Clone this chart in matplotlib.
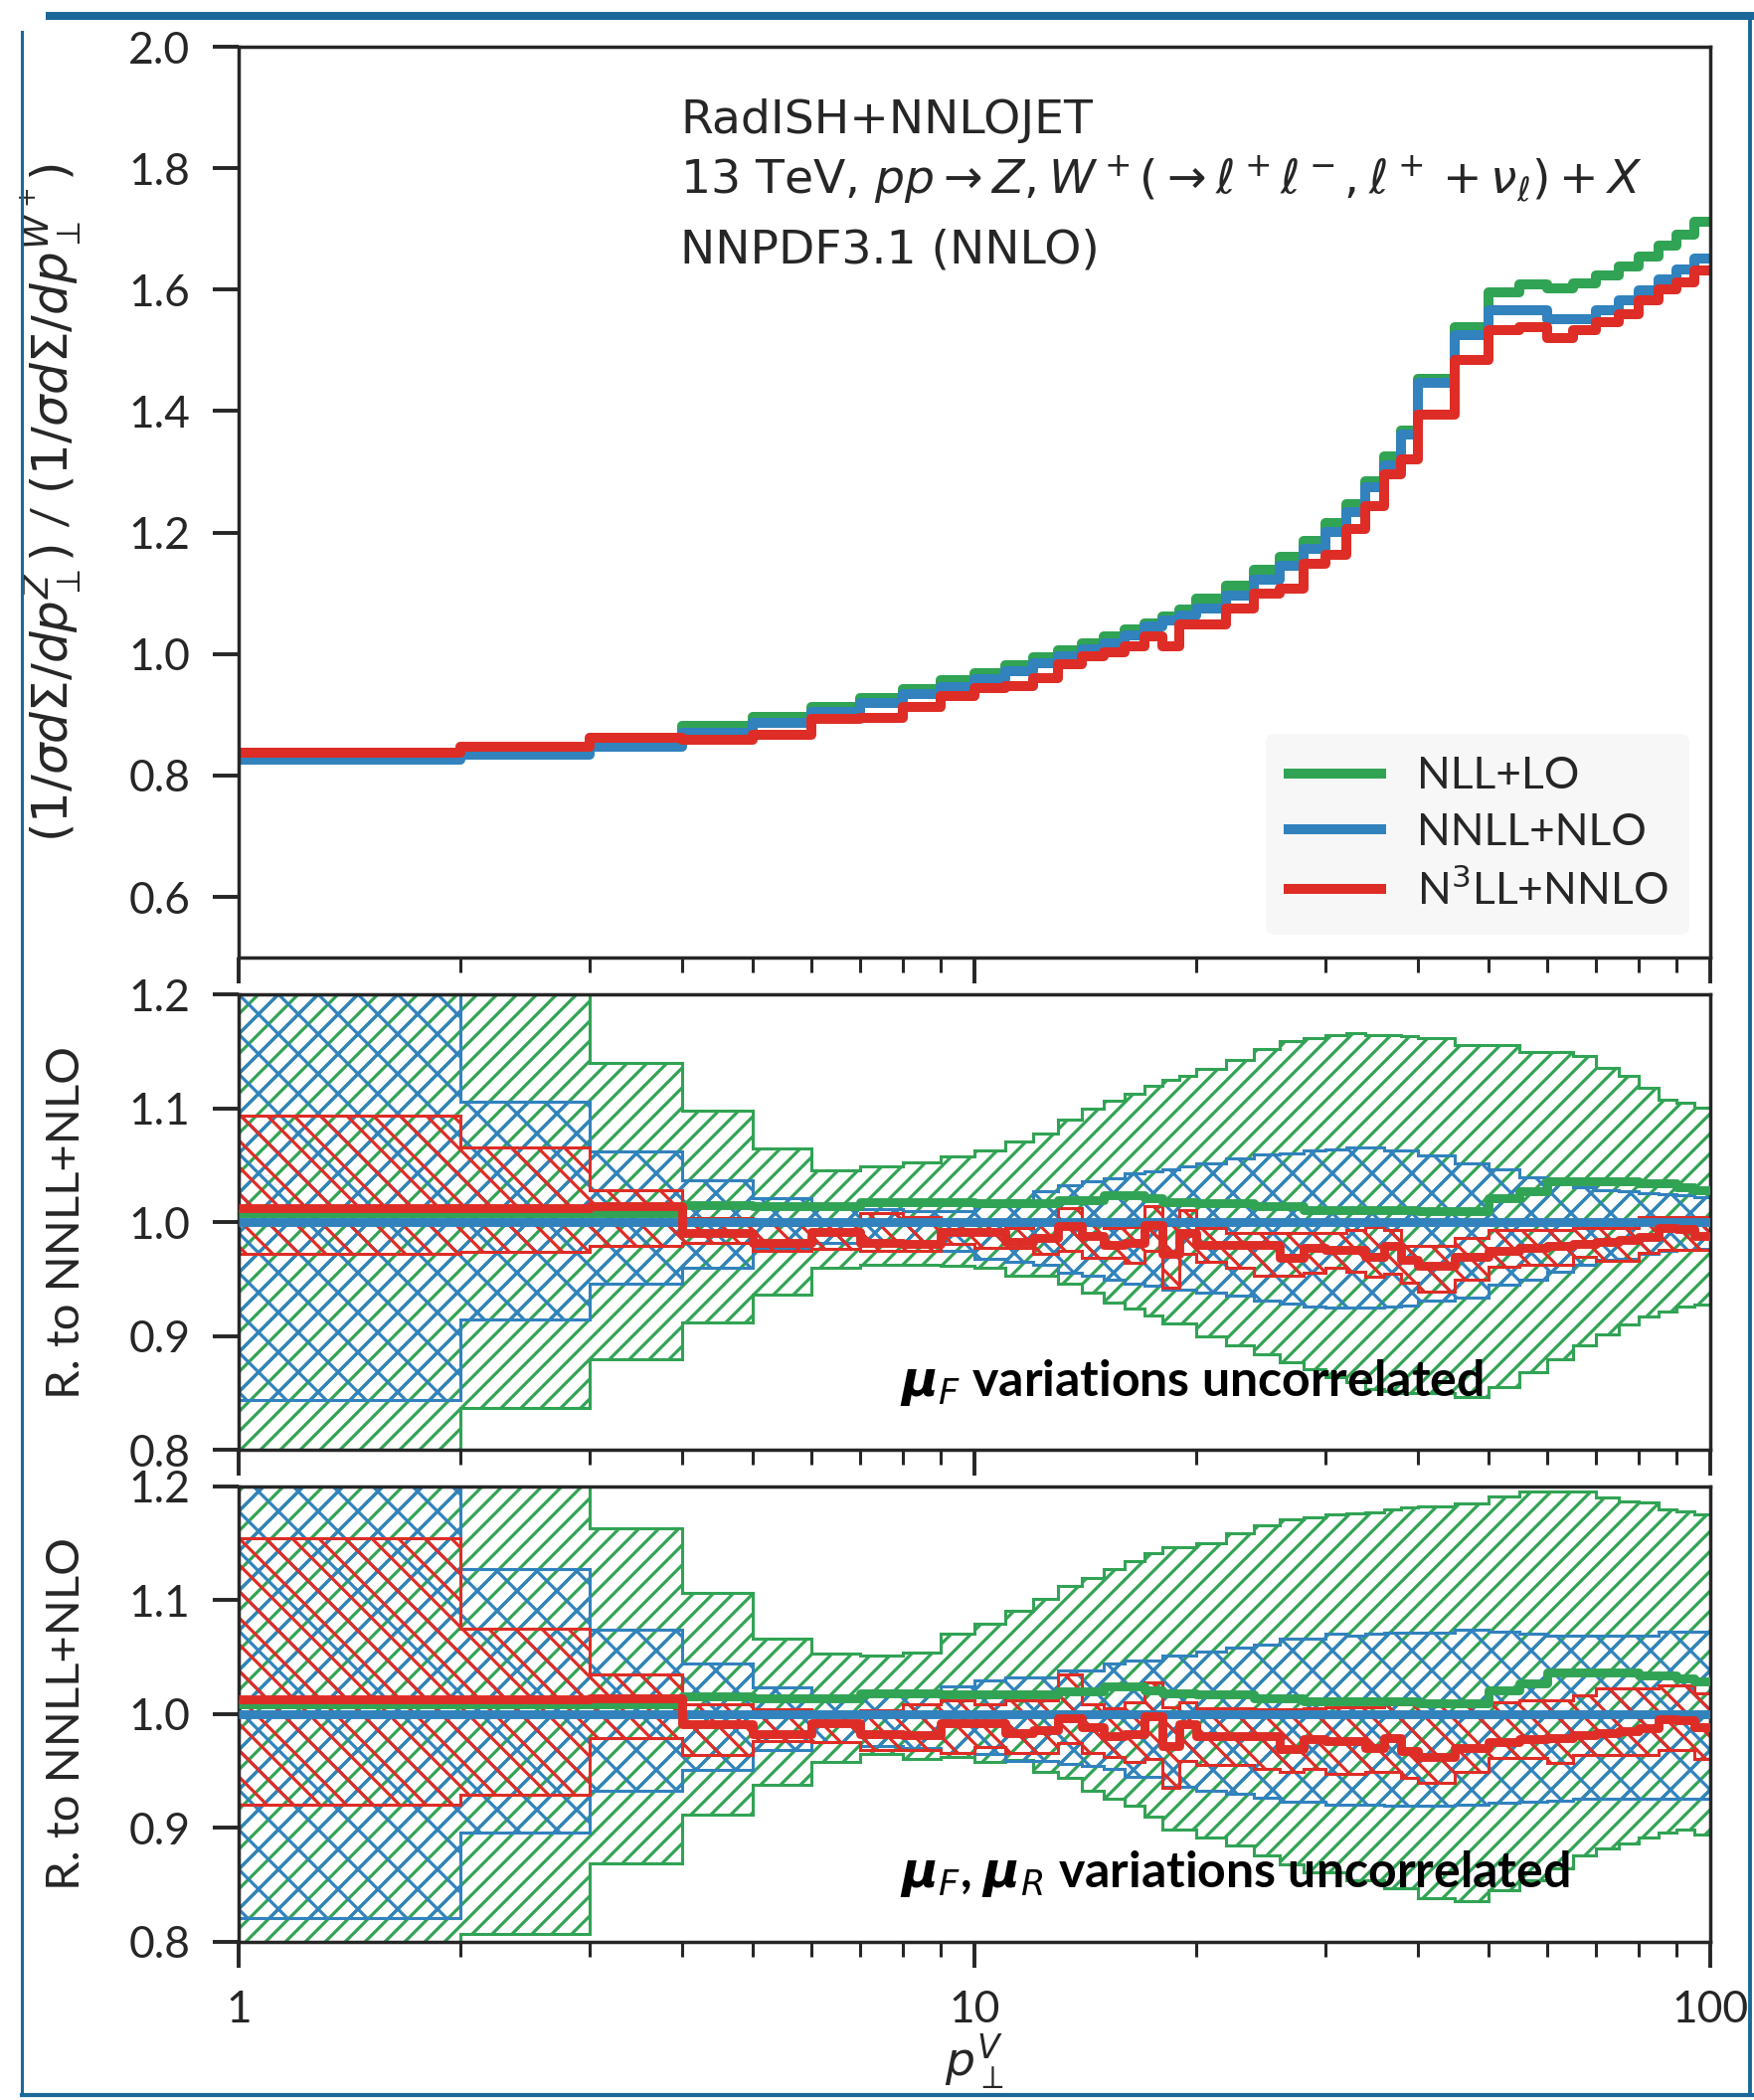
import numpy as np
import matplotlib
matplotlib.use("Agg")
import matplotlib.pyplot as plt
from matplotlib import ticker
from matplotlib.lines import Line2D

# bin edges in p_T^V
pt_edges = [1, 2, 3, 4, 5, 6, 7, 8, 9, 10, 11, 12, 13, 14, 15, 16, 17, 18, 19, 20,
            22, 24, 26, 28, 30, 32, 34, 36, 38, 40,
            45, 50, 55, 60, 65, 70, 75, 80, 85, 90, 95, 100]

labels = ["NLL+LO", "NNLL+NLO", r"N$^3$LL+NNLO"]
colors = ["#31a354", "#3182bd", "#de2d26"]

# top panel: Z / W+ ratio of normalised spectra
top_nll = [0.833, 0.842, 0.856, 0.882, 0.897, 0.912, 0.928, 0.943, 0.957, 0.969,
           0.981, 0.995, 1.006, 1.017, 1.029, 1.040, 1.051, 1.062, 1.074, 1.092,
           1.113, 1.138, 1.160, 1.187, 1.216, 1.247, 1.285, 1.326, 1.368, 1.454,
           1.539, 1.596, 1.608, 1.602, 1.611, 1.623, 1.639, 1.655, 1.672, 1.690, 1.712]
top_nnll = [0.826, 0.834, 0.848, 0.871, 0.887, 0.904, 0.919, 0.934, 0.946, 0.959,
            0.972, 0.985, 0.996, 1.007, 1.017, 1.030, 1.045, 1.056, 1.064, 1.075,
            1.097, 1.122, 1.146, 1.173, 1.201, 1.233, 1.274, 1.310, 1.361, 1.446,
            1.525, 1.566, 1.566, 1.552, 1.552, 1.566, 1.582, 1.599, 1.617, 1.634, 1.652]
top_n3ll = [0.837, 0.848, 0.862, 0.858, 0.867, 0.893, 0.894, 0.912, 0.930, 0.944,
            0.947, 0.961, 0.983, 0.996, 1.003, 1.012, 1.029, 1.013, 1.048, 1.048,
            1.075, 1.100, 1.108, 1.149, 1.163, 1.206, 1.244, 1.296, 1.321, 1.394,
            1.484, 1.533, 1.539, 1.520, 1.533, 1.547, 1.560, 1.582, 1.601, 1.612, 1.632]

# ratio to NNLL+NLO (central)
ratio_nll = [1.008, 1.008, 1.008, 1.015, 1.014, 1.014, 1.018, 1.018, 1.0175, 1.017,
             1.017, 1.017, 1.020, 1.020, 1.024, 1.024, 1.021, 1.018, 1.018, 1.017,
             1.017, 1.014, 1.014, 1.011, 1.011, 1.011, 1.011, 1.011, 1.011, 1.0096,
             1.0096, 1.021, 1.027, 1.036, 1.036, 1.036, 1.036, 1.034, 1.034, 1.031, 1.0285]
ratio_nnll = [1.0] * 41
ratio_n3ll = [1.0125, 1.013, 1.014, 0.991, 0.982, 0.992, 0.982, 0.981, 0.992, 0.992,
              0.983, 0.986, 0.9965, 0.988, 0.980, 0.982, 0.998, 0.972, 0.991, 0.980,
              0.980, 0.980, 0.969, 0.978, 0.976, 0.976, 0.970, 0.979, 0.967, 0.962,
              0.970, 0.975, 0.978, 0.979, 0.981, 0.983, 0.985, 0.987, 0.995, 0.994, 0.988]

# mu_F variations uncorrelated
nll_up_f = [1.25, 1.25, 1.1405, 1.098, 1.065, 1.046, 1.049, 1.053, 1.058, 1.063,
            1.071, 1.078, 1.090, 1.100, 1.107, 1.113, 1.120, 1.125, 1.129, 1.135,
            1.143, 1.152, 1.159, 1.162, 1.165, 1.166, 1.1645, 1.1645, 1.164, 1.162,
            1.156, 1.156, 1.150, 1.150, 1.146, 1.136, 1.129, 1.118, 1.108, 1.105, 1.101]
nll_lo_f = [0.78, 0.837, 0.880, 0.912, 0.937, 0.960, 0.963, 0.963, 0.962, 0.960,
            0.953, 0.953, 0.946, 0.938, 0.930, 0.924, 0.918, 0.911, 0.911, 0.900,
            0.892, 0.884, 0.877, 0.871, 0.864, 0.860, 0.854, 0.852, 0.850, 0.850,
            0.847, 0.855, 0.868, 0.880, 0.892, 0.902, 0.910, 0.917, 0.922, 0.926, 0.928]
nnll_up_f = [1.25, 1.106, 1.062, 1.037, 1.021, 1.015, 1.012, 1.010, 1.010, 1.014,
             1.020, 1.027, 1.033, 1.036, 1.039, 1.043, 1.0445, 1.047, 1.049, 1.052,
             1.056, 1.060, 1.061, 1.063, 1.064, 1.066, 1.0655, 1.063, 1.063, 1.059,
             1.0515, 1.047, 1.040, 1.036, 1.031, 1.028, 1.027, 1.026, 1.025, 1.024, 1.022]
nnll_lo_f = [0.844, 0.915, 0.946, 0.960, 0.978, 0.982, 0.982, 0.980, 0.975, 0.968,
             0.965, 0.963, 0.956, 0.953, 0.950, 0.946, 0.944, 0.941, 0.941, 0.938,
             0.936, 0.931, 0.929, 0.926, 0.925, 0.925, 0.925, 0.926, 0.927, 0.931,
             0.934, 0.945, 0.950, 0.957, 0.963, 0.967, 0.968, 0.972, 0.975, 0.976, 0.977]
n3ll_up_f = [1.094, 1.066, 1.0285, 1.004, 0.998, 1.000, 1.008, 1.005, 0.999, 0.998,
             0.995, 1.000, 1.0125, 0.998, 0.995, 0.996, 1.014, 0.998, 1.011, 0.995,
             0.991, 0.991, 0.991, 0.991, 0.991, 0.993, 0.996, 0.993, 0.979, 0.979,
             0.986, 0.993, 0.993, 0.993, 0.995, 0.995, 0.995, 1.005, 1.005, 1.005, 1.005]
n3ll_lo_f = [0.9726, 0.974, 0.979, 0.982, 0.975, 0.977, 0.975, 0.975, 0.981, 0.978,
             0.978, 0.972, 0.975, 0.969, 0.969, 0.9645, 0.975, 0.943, 0.972, 0.965,
             0.960, 0.953, 0.953, 0.956, 0.960, 0.957, 0.9525, 0.955, 0.947, 0.939,
             0.9496, 0.961, 0.963, 0.963, 0.970, 0.966, 0.966, 0.973, 0.976, 0.976, 0.976]

# mu_F, mu_R variations uncorrelated
nll_up_r = [1.25, 1.25, 1.163, 1.106, 1.066, 1.053, 1.051, 1.054, 1.070, 1.079,
            1.0905, 1.1007, 1.112, 1.1196, 1.127, 1.134, 1.141, 1.146, 1.146, 1.150,
            1.159, 1.166, 1.1705, 1.173, 1.175, 1.176, 1.177, 1.180, 1.181, 1.182,
            1.185, 1.191, 1.195, 1.195, 1.195, 1.190, 1.187, 1.186, 1.180, 1.178, 1.175]
nll_lo_r = [0.78, 0.807, 0.869, 0.9115, 0.938, 0.958, 0.965, 0.960, 0.9625, 0.958,
            0.9595, 0.949, 0.9435, 0.932, 0.925, 0.919, 0.910, 0.8985, 0.8985, 0.891,
            0.884, 0.8755, 0.868, 0.861, 0.861, 0.854, 0.854, 0.8465, 0.8465, 0.838,
            0.835, 0.845, 0.854, 0.864, 0.8755, 0.882, 0.886, 0.891, 0.8955, 0.898, 0.894]
nnll_up_r = [1.25, 1.127, 1.0736, 1.044, 1.0236, 1.015, 1.018, 1.020, 1.024, 1.029,
             1.032, 1.032, 1.038, 1.038, 1.044, 1.047, 1.047, 1.051, 1.051, 1.055,
             1.058, 1.061, 1.066, 1.066, 1.070, 1.069, 1.070, 1.0715, 1.0715, 1.0715,
             1.074, 1.072, 1.070, 1.069, 1.0686, 1.0686, 1.0686, 1.0686, 1.072, 1.072, 1.072]
nnll_lo_r = [0.821, 0.8955, 0.932, 0.951, 0.968, 0.975, 0.972, 0.970, 0.966, 0.965,
             0.959, 0.959, 0.956, 0.954, 0.952, 0.945, 0.945, 0.936, 0.936, 0.932,
             0.930, 0.926, 0.923, 0.923, 0.920, 0.920, 0.920, 0.919, 0.919, 0.919,
             0.920, 0.922, 0.923, 0.924, 0.925, 0.925, 0.925, 0.925, 0.925, 0.925, 0.925]
n3ll_up_r = [1.1545, 1.0745, 1.035, 1.008, 1.004, 1.000, 1.003, 1.008, 1.012, 1.008,
             1.012, 1.012, 1.035, 1.008, 1.005, 1.010, 1.028, 1.006, 1.010, 1.005,
             1.005, 1.004, 1.004, 1.005, 1.006, 1.006, 1.006, 1.008, 1.008, 1.008,
             1.008, 1.0105, 1.012, 1.012, 1.016, 1.022, 1.022, 1.022, 1.025, 1.025, 1.018]
n3ll_lo_r = [0.920, 0.929, 0.9785, 0.964, 0.976, 0.975, 0.968, 0.968, 0.966, 0.971,
             0.9654, 0.9654, 0.974, 0.966, 0.962, 0.958, 0.960, 0.935, 0.959, 0.955,
             0.955, 0.952, 0.949, 0.952, 0.947, 0.947, 0.949, 0.949, 0.9435, 0.939,
             0.949, 0.961, 0.961, 0.9565, 0.964, 0.964, 0.964, 0.964, 0.968, 0.968, 0.960]

hatches = ["////", "xx", "\\\\\\"]
ink = "#262626"

# rendered at 240 dpi (hatch cell = 1 inch), so point sizes are scaled by S
DPI = 240
S = 200.0 / DPI

plt.rcParams["font.family"] = ["Lato", "DejaVu Sans"]
plt.rcParams["mathtext.fontset"] = "dejavusans"
plt.rcParams["font.size"] = 16 * S
plt.rcParams["text.color"] = ink
plt.rcParams["axes.labelcolor"] = ink
plt.rcParams["axes.edgecolor"] = ink
plt.rcParams["xtick.color"] = ink
plt.rcParams["ytick.color"] = ink
plt.rcParams["axes.linewidth"] = 1.25 * S
plt.rcParams["hatch.linewidth"] = 0.95


def setup_axis(ax, xlabels):
    ax.set_xscale("log")
    ax.set_xlim(1, 100)
    ax.xaxis.set_major_locator(ticker.FixedLocator([1, 10, 100]))
    ax.xaxis.set_minor_locator(ticker.LogLocator(base=10, subs=np.arange(2, 10)))
    ax.xaxis.set_minor_formatter(ticker.NullFormatter())
    if xlabels:
        ax.xaxis.set_major_formatter(ticker.FuncFormatter(lambda v, p: "{:g}".format(v)))
    else:
        ax.xaxis.set_major_formatter(ticker.NullFormatter())
    ax.yaxis.set_major_formatter(ticker.FuncFormatter(lambda v, p: "{:.1f}".format(v)))
    ax.tick_params(which="major", direction="out", length=9.5 * S, width=1.4 * S,
                   pad=8 * S, top=False, right=False)
    ax.tick_params(which="minor", direction="out", length=5.4 * S, width=1.1 * S,
                   top=False, right=False)
    ax.tick_params(axis="y", which="minor", left=False)


def ratio_panel(ax, bands, note):
    for (up, lo), c, h in zip(bands, colors, hatches):
        ax.stairs(up, pt_edges, baseline=lo, fill=True, facecolor="none",
                  edgecolor=c, hatch=h, lw=1.1 * S, zorder=2)
    for vals, c in zip([ratio_nll, ratio_nnll, ratio_n3ll], colors):
        ax.stairs(vals, pt_edges, baseline=None, color=c, lw=3.2 * S,
                  joinstyle="round", zorder=3)
    setup_axis(ax, False)
    ax.set_ylim(0.8, 1.2)
    ax.set_yticks([0.8, 0.9, 1.0, 1.1, 1.2])
    ax.set_ylabel("R. to NNLL+NLO", fontsize=17 * S)
    ax.yaxis.set_label_coords(-0.103, 0.5)
    ax.text(0.449, 0.149, note, transform=ax.transAxes, fontsize=18 * S,
            fontweight="bold", color="black", va="center", ha="left", zorder=5)


fig = plt.figure(figsize=(1764 / DPI, 2112 / DPI), dpi=DPI)
ax_top = fig.add_axes([0.1361, 0.544, 0.839, 0.4337])
ax_mid = fig.add_axes([0.1361, 0.3095, 0.839, 0.2168])
ax_bot = fig.add_axes([0.1361, 0.0755, 0.839, 0.2168])

# top panel
for vals, c, lab in zip([top_nll, top_nnll, top_n3ll], colors, labels):
    ax_top.stairs(vals, pt_edges, baseline=None, color=c, lw=3.6 * S,
                  joinstyle="round", label=lab)
setup_axis(ax_top, False)
ax_top.set_ylim(0.5, 2.0)
ax_top.set_yticks(np.arange(0.6, 2.01, 0.2))
ax_top.set_ylabel(r"$(1/\sigma d\Sigma/dp_\perp^Z)$ / $(1/\sigma d\Sigma/dp_\perp^{W^+})$",
                  fontsize=18 * S)
ax_top.yaxis.set_label_coords(-0.105, 0.5)

info_font = dict(transform=ax_top.transAxes, va="center", fontsize=17 * S,
                 family="DejaVu Sans")
ax_top.text(0.30, 0.919, "RadISH+NNLOJET", **info_font)
ax_top.text(0.30, 0.853,
            r"13 TeV, $pp \to Z, W^+(\to \ell^+\ell^-, \ell^+ + \nu_\ell) + X$",
            **info_font)
ax_top.text(0.30, 0.776, "NNPDF3.1 (NNLO)", **info_font)

handles = [Line2D([], [], color=c, lw=3.6 * S) for c in colors]
leg = ax_top.legend(handles, labels, loc="lower right", bbox_to_anchor=(0.986, 0.025),
                    borderaxespad=0, frameon=True, fancybox=True, facecolor="#f7f7f7",
                    edgecolor="none", framealpha=1, handlelength=2.1,
                    labelspacing=0.35, borderpad=0.5)

ratio_panel(ax_mid, [(nll_up_f, nll_lo_f), (nnll_up_f, nnll_lo_f), (n3ll_up_f, n3ll_lo_f)],
            r"$\boldsymbol{\mu}_F$ variations uncorrelated")
ratio_panel(ax_bot, [(nll_up_r, nll_lo_r), (nnll_up_r, nnll_lo_r), (n3ll_up_r, n3ll_lo_r)],
            r"$\boldsymbol{\mu}_F$, $\boldsymbol{\mu}_R$ variations uncorrelated")
setup_axis(ax_bot, True)
fig.text(0.5556, 0.018, r"$p_\perp^V$", ha="center", va="center", fontsize=17 * S)

# slide frame
frame = "#1a6899"
fig.add_artist(Line2D([0.026, 1.0], [0.9924, 0.9924], transform=fig.transFigure,
                      color=frame, lw=2.9 * S, solid_capstyle="butt"))
fig.add_artist(Line2D([0.0125, 0.0125], [0.0024, 0.985], transform=fig.transFigure,
                      color=frame, lw=1.1 * S))
fig.add_artist(Line2D([0.0125, 1.0], [0.0024, 0.0024], transform=fig.transFigure,
                      color=frame, lw=1.5 * S))
fig.add_artist(Line2D([0.9977, 0.9977], [0.0024, 0.9924], transform=fig.transFigure,
                      color=frame, lw=1.4 * S))

fig.savefig("out.png", dpi=DPI)
